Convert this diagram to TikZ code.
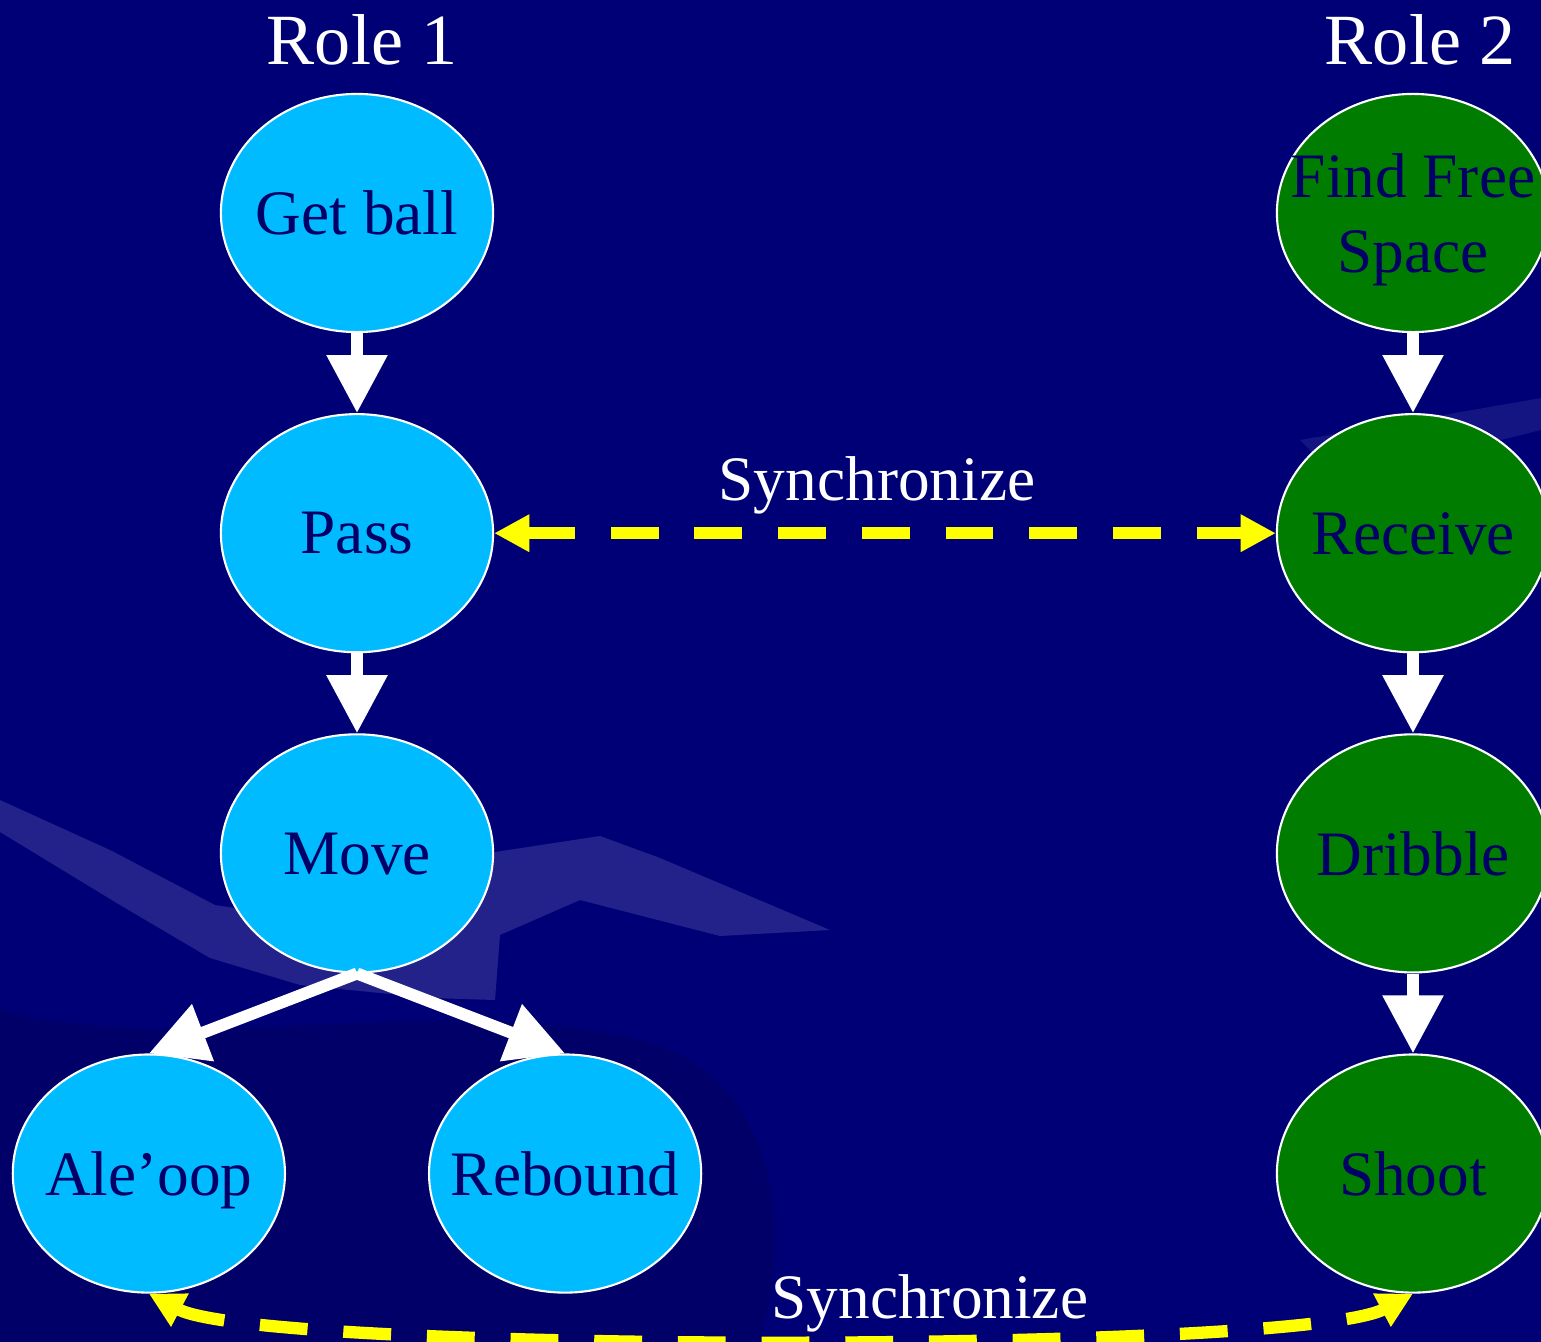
\documentclass[tikz,border=0pt]{standalone}
\usepackage{fontspec}
\setmainfont{Liberation Serif}
\usetikzlibrary{shapes.geometric,arrows.meta,positioning}

\definecolor{bgnavy}{RGB}{0,0,118}
\definecolor{bgdark}{RGB}{0,0,104}
\definecolor{bglight}{RGB}{34,34,138}
\definecolor{inknavy}{RGB}{0,0,102}
\definecolor{skyfill}{RGB}{0,187,255}
\definecolor{grassfill}{RGB}{0,125,0}
\definecolor{syncyellow}{RGB}{255,255,0}

% text that does not widen its ellipse
\newcommand{\statetext}[1]{\makebox[0pt]{#1}}

\tikzset{
  state/.style={draw=white,line width=0.6pt,ellipse,inner sep=0pt,
    minimum width=2.72cm,minimum height=2.38cm,text=inknavy,align=center,
    text depth=0pt,font=\fontsize{18}{21.5}\selectfont},
  roleone/.style={state,fill=skyfill},
  roletwo/.style={state,fill=grassfill},
  flow/.style={white,line width=3.4pt,-{Triangle[length=16.5pt,width=16.5pt]}},
  sync/.style={syncyellow,line width=3.5pt,dash pattern=on 13.6pt off 10.2pt,
    {Triangle[length=10pt,width=10pt]}-{Triangle[length=10pt,width=10pt]}},
  synclabel/.style={text=white,font=\fontsize{18}{21.5}\selectfont},
  rolelabel/.style={text=white,font=\fontsize{20.5}{24}\selectfont}
}

\begin{document}
\begin{tikzpicture}[x=0.01cm,y=-0.01cm,node distance=3.2cm]
    % Background
    \clip (0,0) rectangle (1541,1342);
    \fill[bgnavy] (0,0) rectangle (1541,1342);
    \fill[bgdark] (0,1010) .. controls (200,1060) and (420,990) .. (640,1040)
      .. controls (760,1070) and (800,1200) .. (760,1342) -- (0,1342) -- cycle;
    \fill[bglight] (0,800) -- (110,850) -- (215,905) -- (330,922) -- (495,852)
      -- (600,836) -- (660,858) -- (830,930) -- (720,936) -- (580,900)
      -- (500,935) -- (495,1000) -- (430,998) -- (300,985) -- (210,958)
      -- (120,905) -- (0,832) -- cycle;
    \fill[bglight,opacity=0.6] (1300,440) -- (1541,398) -- (1541,430)
      -- (1340,480) -- cycle;

    % Nodes
    \node[rolelabel] (R1) at (362,40) {Role 1};
    \node[rolelabel] (R2) at (1420,40) {Role 2};

    \node[roleone] (Get) at (357,213) {\statetext{Get ball}};
    \node[roleone] (Pass) [below of=Get] {\statetext{Pass}};
    \node[roleone] (Move) [below of=Pass] {\statetext{Move}};
    \node[roleone] (Aleoop) [below of=Move,xshift=-2.08cm] {\statetext{Ale'oop}};
    \node[roleone] (Rebound) [below of=Move,xshift=2.08cm] {\statetext{Rebound}};

    \node[roletwo] (Find) at (1413,213) {\statetext{Find Free}\\\statetext{Space}};
    \node[roletwo] (Receive) [below of=Find] {\statetext{Receive}};
    \node[roletwo] (Dribble) [below of=Receive] {\statetext{Dribble}};
    \node[roletwo] (Shoot) [below of=Dribble] {\statetext{Shoot}};

    % Arrows
    \draw[flow] (Get.south) -- (Pass.north);
    \draw[flow] (Pass.south) -- (Move.north);
    \draw[flow] (Move.south) -- (Aleoop.north);
    \draw[flow] (Move.south) -- (Rebound.north);
    \draw[flow] (Find.south) -- (Receive.north);
    \draw[flow] (Receive.south) -- (Dribble.north);
    \draw[flow] (Dribble.south) -- (Shoot.north);

    % Synchronization
    \draw[sync] (Pass.east) -- node[synclabel,above=0.2pt,xshift=-0.08cm] {Synchronize} (Receive.west);
    \draw[sync] (Aleoop.south) to[out=-28,in=-152,looseness=0.26]
      node[synclabel,pos=0.587,above=-3.5pt] {Synchronize} (Shoot.south);
\end{tikzpicture}
\end{document}
